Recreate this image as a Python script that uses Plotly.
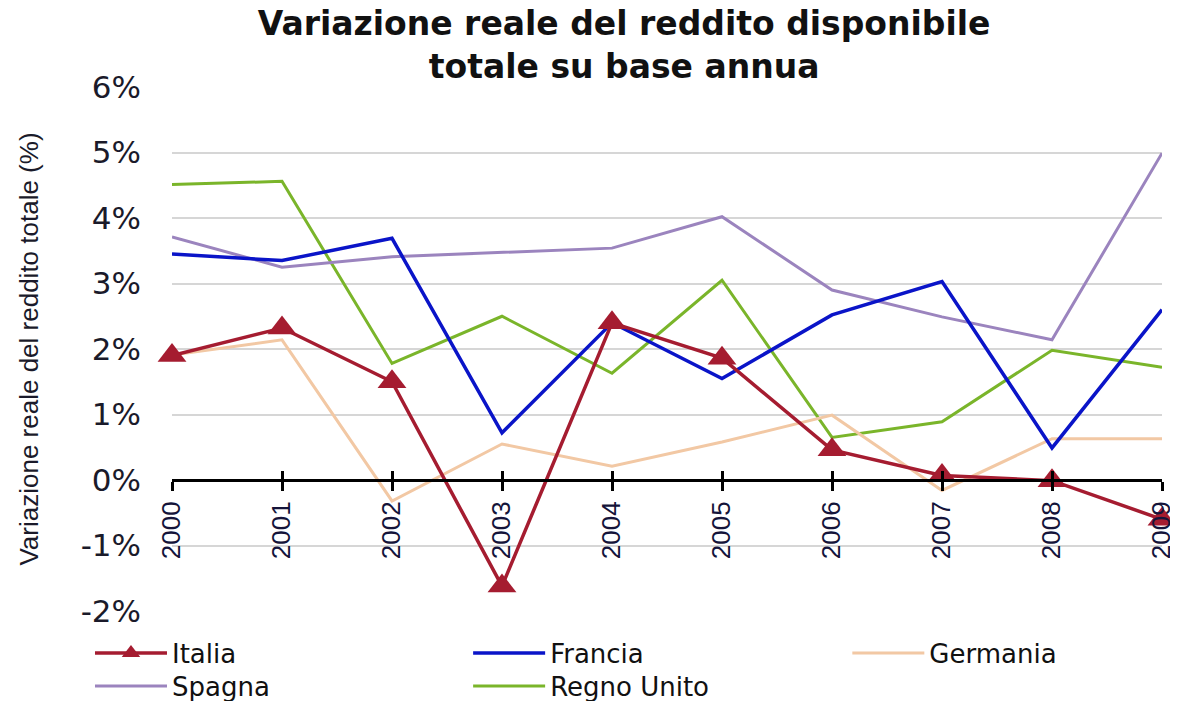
import plotly.graph_objects as go

years = [2000, 2001, 2002, 2003, 2004, 2005, 2006, 2007, 2008, 2009]
year_labels = [str(y) for y in years]

italia = [1.90, 2.32, 1.50, -1.62, 2.40, 1.86, 0.46, 0.07, -0.01, -0.60]
francia = [3.45, 3.35, 3.69, 0.72, 2.40, 1.55, 2.52, 3.03, 0.49, 2.60]
germania = [1.91, 2.14, -0.32, 0.55, 0.21, 0.58, 0.99, -0.16, 0.63, 0.63]
spagna = [3.71, 3.25, 3.41, 3.47, 3.54, 4.02, 2.90, 2.49, 2.14, 4.99]
regno_unito = [4.51, 4.56, 1.78, 2.50, 1.63, 3.05, 0.65, 0.89, 1.98, 1.72]

y_ticks = [-2, -1, 0, 1, 2, 3, 4, 5, 6]
y_tick_labels = ["-2%", "-1%", "0%", "1%", "2%", "3%", "4%", "5%", "6%"]

title_text = "Variazione reale del reddito disponibile<br>totale su base annua"
y_title = "Variazione reale del reddito totale (%)"

fig = go.Figure()

# helper trace so the overlay axis (upper half of the crossing tick marks) is drawn
fig.add_trace(go.Scatter(x=years, y=italia, xaxis="x2", mode="lines", opacity=0,
                         showlegend=False, hoverinfo="skip"))
fig.add_trace(go.Scatter(x=years, y=regno_unito, name="Regno Unito", mode="lines",
                         line=dict(color="#7AB52A", width=3), legend="legend5"))
fig.add_trace(go.Scatter(x=years, y=spagna, name="Spagna", mode="lines",
                         line=dict(color="#9B84BE", width=3), legend="legend4"))
fig.add_trace(go.Scatter(x=years, y=germania, name="Germania", mode="lines",
                         line=dict(color="#F2C8A4", width=3), legend="legend3"))
fig.add_trace(go.Scatter(x=years, y=francia, name="Francia", mode="lines",
                         line=dict(color="#0A14C8", width=3.5), legend="legend2"))
fig.add_trace(go.Scatter(x=years, y=italia, name="Italia", mode="lines+markers",
                         line=dict(color="#A51C30", width=3.5),
                         marker=dict(symbol="triangle-up", size=25, color="#A51C30"),
                         cliponaxis=False, legend="legend"))

legend_font = dict(family="DejaVu Sans", size=26, color="#111111")
legend_common = dict(orientation="h", xref="container", yref="container", xanchor="left",
                     yanchor="middle", itemwidth=72, font=legend_font,
                     bgcolor="rgba(0,0,0,0)")
row1_y = 0.0799
row2_y = 0.0328

fig.update_layout(
    width=1178, height=701,
    paper_bgcolor="white", plot_bgcolor="white",
    margin=dict(l=164, r=24, t=79, b=98),
    title=dict(text=title_text, x=0.523, xanchor="center", y=0.962, yanchor="top",
               xref="container", yref="container",
               font=dict(family="DejaVu Sans", size=33, color="#111111", weight="bold")),
    xaxis=dict(range=[2000, 2009], anchor="free", position=0.25, automargin=False,
               tickvals=years, ticktext=year_labels, tickangle=-90,
               showline=True, linecolor="black", linewidth=3,
               ticks="outside", ticklen=9, tickwidth=3, tickcolor="black",
               showgrid=False, zeroline=False,
               tickfont=dict(family="Liberation Sans", size=26, color="#14143a")),
    xaxis2=dict(range=[2000, 2009], matches="x", overlaying="x", anchor="free", position=0.25,
                tickvals=years, showticklabels=False, automargin=False,
                ticks="inside", ticklen=9, tickwidth=3, tickcolor="black",
                showline=False, showgrid=False, zeroline=False),
    yaxis=dict(range=[-2, 6], tickvals=y_ticks, ticktext=y_tick_labels, automargin=False,
               showgrid=True, gridcolor="#D6D6D6", gridwidth=2,
               zeroline=False, showline=False, ticks="", ticklabelstandoff=30,
               tickfont=dict(family="DejaVu Sans", size=31, color="#1a1a2a"),
               title=dict(text=y_title, standoff=34,
                          font=dict(family="Liberation Sans", size=26, color="#1a1a2a"))),
    legend=dict(x=0.0696, y=row1_y, **legend_common),
    legend2=dict(x=0.3906, y=row1_y, **legend_common),
    legend3=dict(x=0.7125, y=row1_y, **legend_common),
    legend4=dict(x=0.0696, y=row2_y, **legend_common),
    legend5=dict(x=0.3906, y=row2_y, **legend_common),
)

fig.write_html("out.html")
